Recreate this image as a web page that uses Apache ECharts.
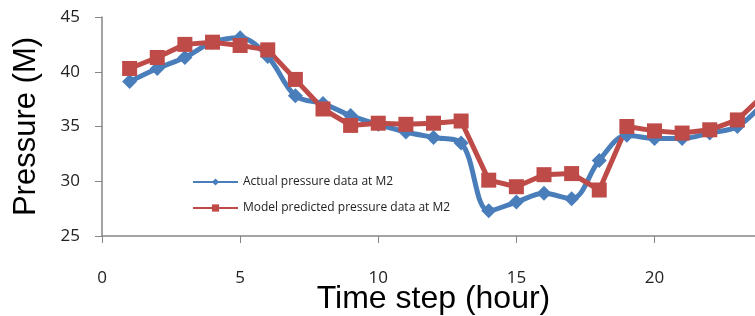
<!DOCTYPE html>
<html>
<head>
<meta charset="utf-8">
<script src="https://cdn.jsdelivr.net/npm/echarts@6/dist/echarts.min.js"></script>
<style>
  html, body { margin: 0; padding: 0; background: #fff; }
  #chart { width: 755px; height: 316px; }
</style>
</head>
<body>
<div id="chart"></div>
<script>
// Time steps (hour) and the two pressure series
const timeSteps = [1, 2, 3, 4, 5, 6, 7, 8, 9, 10, 11, 12, 13, 14, 15, 16, 17, 18, 19, 20, 21, 22, 23, 24];
const actualPressure = [39.1, 40.3, 41.3, 42.7, 43.1, 41.4, 37.8, 37.1, 36.0, 35.2, 34.5, 34.0, 33.5, 27.3, 28.1, 28.9, 28.4, 31.9, 34.2, 33.9, 33.9, 34.4, 35.0, 37.3];
const modelPressure = [40.3, 41.3, 42.5, 42.7, 42.4, 42.0, 39.3, 36.6, 35.1, 35.3, 35.2, 35.3, 35.5, 30.1, 29.5, 30.6, 30.7, 29.2, 35.0, 34.6, 34.4, 34.7, 35.6, 38.0];
const seriesNames = ['Actual pressure data at M2', 'Model predicted pressure data at M2'];

const BLUE = '#4a7ebb';
const RED = '#be4b48';
const AXIS = '#868686';

function pairs(xs, ys) {
    return xs.map((x, i) => [x, ys[i]]);
}

const chart = echarts.init(document.getElementById('chart'));

chart.setOption({
    animation: false,
    backgroundColor: '#fff',
    // the original plot runs past the right edge of the picture
    grid: { left: 102, top: 17, width: 663, height: 219, outerBoundsMode: 'none', containLabel: false },
    legend: {
        data: seriesNames,
        orient: 'vertical',
        left: 187,
        top: 171,
        itemWidth: 45,
        itemHeight: 9,
        itemGap: 14,
        lineStyle: { width: 2 },
        textStyle: { fontFamily: 'Open Sans', fontSize: 12, color: '#222' }
    },
    xAxis: {
        type: 'value',
        min: 0,
        max: 24,
        interval: 5,
        name: 'Time step (hour)',
        nameLocation: 'middle',
        nameGap: 47,
        nameMoveOverlap: false,
        nameTextStyle: { fontFamily: 'Liberation Sans', fontSize: 32, color: '#000' },
        axisLine: { lineStyle: { color: AXIS, width: 1.5 } },
        axisTick: { inside: false, length: 7, lineStyle: { color: AXIS } },
        axisLabel: { margin: 34, fontFamily: 'Open Sans', fontSize: 17, color: '#222' },
        splitLine: { show: false }
    },
    yAxis: {
        type: 'value',
        min: 25,
        max: 45,
        interval: 5,
        name: 'Pressure (M)',
        nameLocation: 'middle',
        nameRotate: 90,
        nameGap: 60,
        nameTextStyle: { fontFamily: 'Liberation Sans', fontSize: 31, color: '#000' },
        axisLine: { show: true, lineStyle: { color: AXIS, width: 1.5 } },
        axisTick: { show: true, length: 7, lineStyle: { color: AXIS } },
        axisLabel: { margin: 22, fontFamily: 'Open Sans', fontSize: 17, color: '#222' },
        splitLine: { show: false }
    },
    series: [
        {
            name: seriesNames[0],
            type: 'line',
            data: pairs(timeSteps, actualPressure),
            smooth: 0.35,
            symbol: 'diamond',
            symbolSize: 15,
            lineStyle: { color: BLUE, width: 5 },
            itemStyle: { color: BLUE }
        },
        {
            name: seriesNames[1],
            type: 'line',
            data: pairs(timeSteps, modelPressure),
            symbol: 'rect',
            symbolSize: 15,
            lineStyle: { color: RED, width: 5 },
            itemStyle: { color: RED }
        }
    ]
});
</script>
</body>
</html>
